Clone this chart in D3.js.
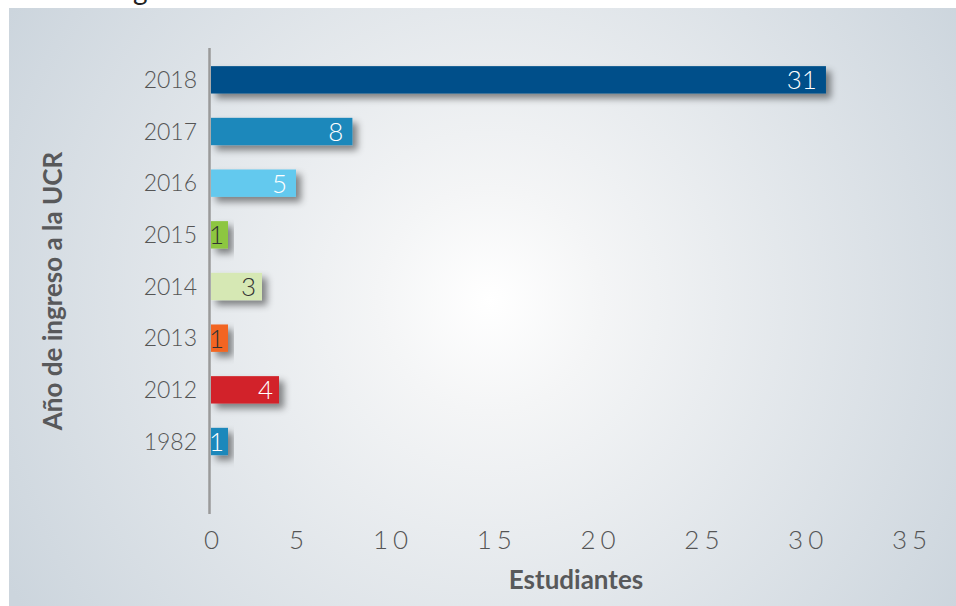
<!DOCTYPE html>
<html>
<head>
<meta charset="utf-8">
<script src="https://cdn.jsdelivr.net/npm/d3@7"></script>
<style>
  body { margin: 0; background: #fff; }
  svg { display: block; font-family: Lato, "Open Sans", sans-serif; }
</style>
</head>
<body>
<div id="chart-area"></div>
<script>

var width = 956,
    height = 606;

// data
var years = ["2018", "2017", "2016", "2015", "2014", "2013", "2012", "1982"];
var students = [31, 8, 5, 1, 3, 1, 4, 1];
var barColors = ["#00508a", "#1a88bb", "#63c9ee", "#8dc63f", "#d6e8b4", "#f26522", "#d2232a", "#1a88bb"];
var labelColors = ["#fff", "#fff", "#fff", "#333", "#333", "#333", "#fff", "#fff"];
var xTicks = [0, 5, 10, 15, 20, 25, 30, 35];

var data = years.map(function(y, i) {
  return { year: y, value: students[i], color: barColors[i], label: labelColors[i] };
});

var svg = d3.select("#chart-area").append("svg")
    .attr("width", width)
    .attr("height", height);

var defs = svg.append("defs");

var grad = defs.append("radialGradient")
    .attr("id", "bg")
    .attr("gradientUnits", "userSpaceOnUse")
    .attr("cx", 490).attr("cy", 300).attr("r", 560);
grad.append("stop").attr("offset", "0").attr("stop-color", "#ffffff");
grad.append("stop").attr("offset", "0.2").attr("stop-color", "#f4f5f6");
grad.append("stop").attr("offset", "1").attr("stop-color", "#ccd5dd");

var shadow = defs.append("filter")
    .attr("id", "shadow")
    .attr("x", "-20%").attr("y", "-50%")
    .attr("width", "150%").attr("height", "220%");
shadow.append("feDropShadow")
    .attr("dx", 5).attr("dy", 5)
    .attr("stdDeviation", 3.5)
    .attr("flood-color", "#000")
    .attr("flood-opacity", 0.45);

// cut off title above the panel (only the descender shows)
svg.append("text")
    .attr("x", 133).attr("y", -0.5)
    .style("font-size", "28px")
    .style("fill", "#222")
    .text("g");

// panel
svg.append("rect")
    .attr("x", 9).attr("y", 8)
    .attr("width", width - 9).attr("height", height - 8)
    .attr("fill", "url(#bg)");

// scales - the original axis is not evenly spaced at the start,
// so the scale follows the tick positions seen in the picture
var x = d3.scaleLinear()
    .domain([0, 5, 10, 35])
    .range([211, 296, 390, 909]);

var y = d3.scaleBand()
    .domain(years.concat([""]))
    .range([54, 519])
    .paddingInner(0.47)
    .paddingOuter(0.235);

// bars
var bar = svg.selectAll(".bar")
    .data(data)
    .enter()
    .append("rect")
    .attr("class", "bar")
    .attr("x", x(0))
    .attr("y", d => y(d.year))
    .attr("width", d => x(d.value) - x(0))
    .attr("height", y.bandwidth())
    .attr("fill", d => d.color)
    .attr("filter", "url(#shadow)");

// value labels
svg.selectAll(".val")
    .data(data)
    .enter()
    .append("text")
    .attr("class", "val")
    .attr("x", d => x(d.value) - (d.value > 4 ? 9 : (d.value > 1 ? 6 : 4)))
    .attr("y", d => y(d.year) + y.bandwidth() / 2)
    .attr("dy", "0.36em")
    .attr("text-anchor", "end")
    .style("font-size", "26px")
    .style("font-weight", 300)
    .style("fill", d => d.label)
    .text(d => d.value);

// year labels
svg.selectAll(".year")
    .data(data)
    .enter()
    .append("text")
    .attr("class", "year")
    .attr("x", 197)
    .attr("y", d => y(d.year) + y.bandwidth() / 2)
    .attr("dy", "0.36em")
    .attr("text-anchor", "end")
    .style("font-size", "23px")
    .style("font-weight", 300)
    .style("fill", "#555")
    .text(d => d.year);

// vertical axis line
svg.append("line")
    .attr("x1", 209.5).attr("x2", 209.5)
    .attr("y1", 48).attr("y2", 514)
    .style("stroke", "#9a9a9a")
    .style("stroke-width", 2.5);

// x axis
var xAxis = svg.append("g")
    .attr("transform", "translate(0,549)")
    .call(d3.axisBottom(x).tickValues(xTicks).tickSize(0).tickPadding(0));
xAxis.select(".domain").remove();
xAxis.selectAll("text")
    .attr("y", 0).attr("dy", 0)
    .attr("dx", "2.5px")
    .style("font-family", "Lato, sans-serif")
    .style("font-size", "26px")
    .style("font-weight", 300)
    .style("letter-spacing", "5px")
    .style("fill", "#555");

// axis titles
svg.append("text")
    .attr("x", 576).attr("y", 589)
    .attr("text-anchor", "middle")
    .style("font-size", "26px")
    .style("font-weight", 700)
    .style("fill", "#58595b")
    .text("Estudiantes");

svg.append("text")
    .attr("transform", "translate(62,291) rotate(-90)")
    .attr("text-anchor", "middle")
    .style("font-size", "26px")
    .style("font-weight", 700)
    .style("fill", "#58595b")
    .text("Año de ingreso a la UCR");

</script>
</body>
</html>
